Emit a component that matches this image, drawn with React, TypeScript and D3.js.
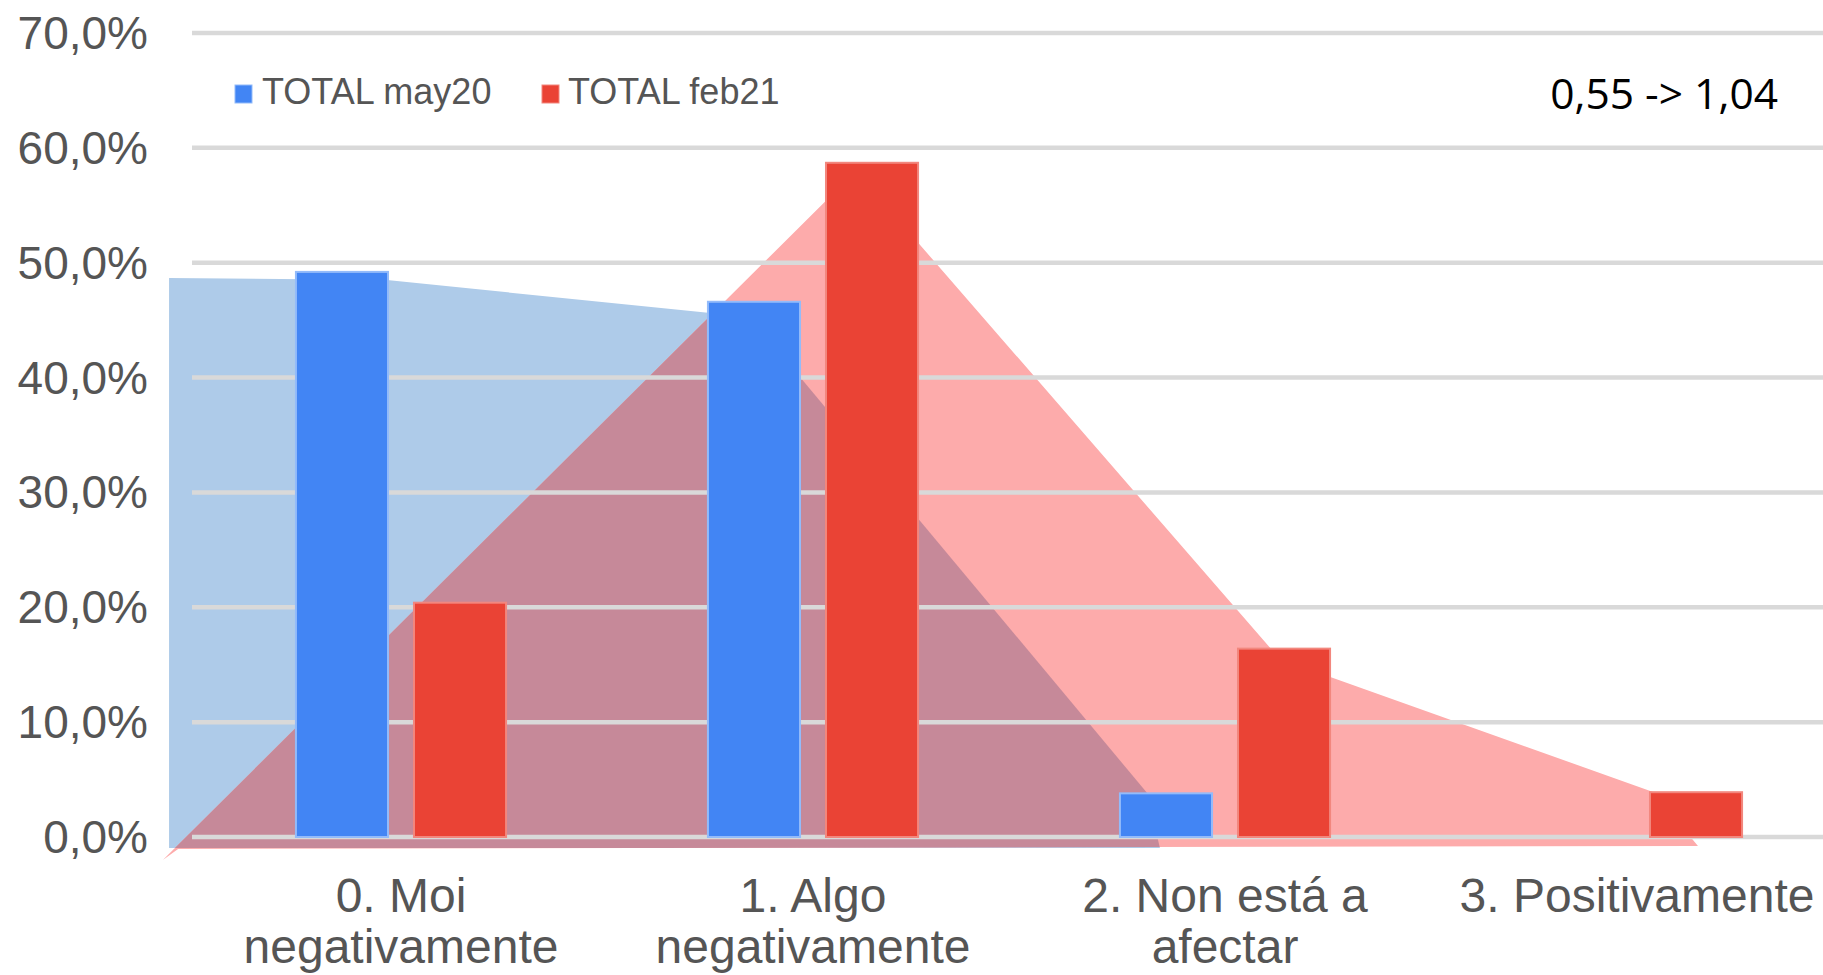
import React from "react";
import * as d3 from "d3";

const categories = ["0. Moi negativamente", "1. Algo negativamente", "2. Non está a afectar", "3. Positivamente"];
const categoryLines = [["0. Moi", "negativamente"], ["1. Algo", "negativamente"], ["2. Non está a", "afectar"], ["3. Positivamente"]];
const seriesNames = ["TOTAL may20", "TOTAL feb21"];
const may20 = [49.2, 46.6, 3.8, 0];
const feb21 = [20.4, 58.7, 16.4, 3.9];
const yTicks = [0, 10, 20, 30, 40, 50, 60, 70];
const annotation = "0,55 -> 1,04";

// Hand-drawn background shapes, in (category index, percent) units
const blueShapeU = [-0.563, -0.034, 0.847, 1.811, 1.842, -0.563];
const blueShapeV = [48.67, 48.49, 45.27, 3.83, -0.96, -0.96];
const redShapeU = [-0.578, 1.104, 2.133, 3.039, 3.148, -0.541];
const redShapeV = [-2.0, 57.98, 15.5, 3.92, -0.78, -1.04];

const W = 1823;
const H = 975;
const FONT = "'Liberation Sans', Arial, sans-serif";

export default function App() {
  const y = d3.scaleLinear().domain([0, 70]).range([837, 33]);
  const x = d3.scaleBand<string>().domain(categories).range([195, 1843]).paddingInner(0.49).paddingOuter(0.245);
  const xs = d3.scaleBand<string>().domain(seriesNames).range([0, x.bandwidth()]).paddingInner(0.22).paddingOuter(0);
  const c0 = (x(categories[0]) as number) + x.bandwidth() / 2;
  const c3 = (x(categories[3]) as number) + x.bandwidth() / 2;
  const xu = d3.scaleLinear().domain([0, 3]).range([c0, c3]);

  const line = d3.line<[number, number]>().x((d) => xu(d[0])).y((d) => y(d[1]));
  const bluePts: [number, number][] = blueShapeU.map((u, i) => [u, blueShapeV[i]]);
  const redPts: [number, number][] = redShapeU.map((u, i) => [u, redShapeV[i]]);
  const blueD = line(bluePts) + "Z";
  const redD = line(redPts) + "Z";

  const fmt = (v: number) => v.toFixed(1).replace(".", ",") + "%";
  const series = [
    { name: seriesNames[0], values: may20, fill: "#4285F4", stroke: "#93BBFA" },
    { name: seriesNames[1], values: feb21, fill: "#EA4335", stroke: "#F2877E" },
  ];

  return (
    <div style={{ position: "absolute", left: 0, top: 0 }}>
      <svg width={W} height={H} style={{ display: "block", background: "#fff" }}>
        <defs>
          <clipPath id="blueClip">
            <path d={blueD} />
          </clipPath>
        </defs>
        <rect x={0} y={0} width={W} height={H} fill="#fff" />
        {/* background shapes */}
        <path d={blueD} fill="#AECBE9" />
        <path d={redD} fill="#FDABAB" />
        <path d={redD} fill="#C68999" clipPath="url(#blueClip)" />
        {/* gridlines */}
        {yTicks.map((t) => (
          <line key={"g" + t} x1={192} x2={W} y1={y(t)} y2={y(t)} stroke="#D9D9D9" strokeWidth={4.5} />
        ))}
        {/* y labels */}
        {yTicks.map((t) => (
          <text key={"yl" + t} x={148} y={y(t) + 16} textAnchor="end" fontFamily={FONT} fontSize={46} fill="#555">
            {fmt(t)}
          </text>
        ))}
        {/* bars */}
        {series.map((s) =>
          s.values.map((v, i) =>
            v > 0 ? (
              <rect
                key={s.name + i}
                x={(x(categories[i]) as number) + (xs(s.name) as number)}
                y={y(v)}
                width={xs.bandwidth()}
                height={y(0) - y(v)}
                fill={s.fill}
                stroke={s.stroke}
                strokeWidth={2}
              />
            ) : null
          )
        )}
        {/* x labels */}
        {categoryLines.map((lines, i) => (
          <text
            key={"xl" + i}
            x={(x(categories[i]) as number) + x.bandwidth() / 2}
            y={912}
            textAnchor="middle"
            fontFamily={FONT}
            fontSize={48}
            fill="#555"
          >
            {lines.map((ln, j) => (
              <tspan key={j} x={(x(categories[i]) as number) + x.bandwidth() / 2} dy={j === 0 ? 0 : 51}>
                {ln}
              </tspan>
            ))}
          </text>
        ))}
        {/* legend */}
        <rect x={235} y={85} width={17} height={18} fill="#4285F4" stroke="#93BBFA" strokeWidth={1} />
        <text x={262} y={104} fontFamily={FONT} fontSize={36} fill="#555">
          {seriesNames[0]}
        </text>
        <rect x={542} y={85} width={17} height={18} fill="#EA4335" stroke="#F2877E" strokeWidth={1} />
        <text x={568} y={104} fontFamily={FONT} fontSize={36} fill="#555">
          {seriesNames[1]}
        </text>
        {/* annotation */}
        <text x={1778} y={109} textAnchor="end" fontFamily="'Open Sans', sans-serif" fontSize={42.5} fill="#000">
          {annotation}
        </text>
      </svg>
    </div>
  );
}
